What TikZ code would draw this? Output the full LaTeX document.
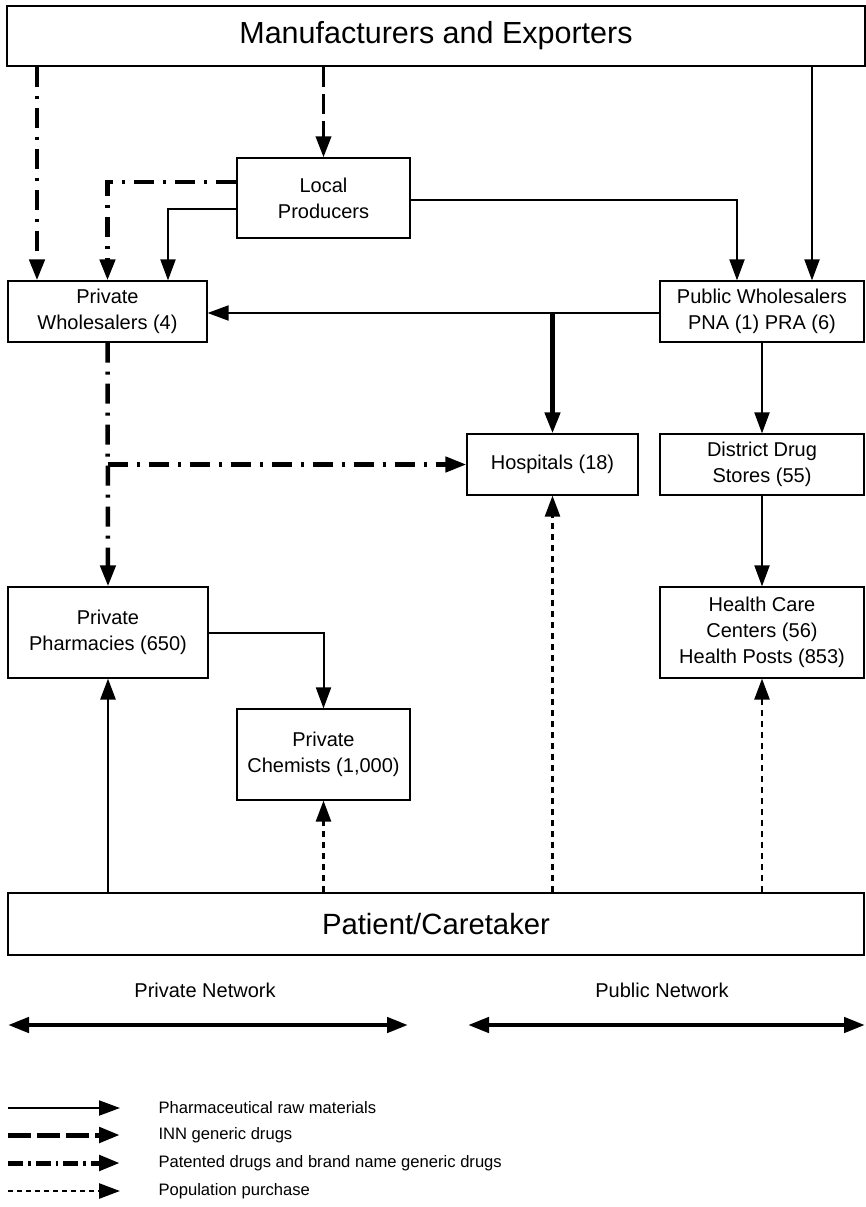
\documentclass[tikz,border=0pt]{standalone}
\usepackage{fontspec}
\setmainfont{Liberation Sans}
\usepackage{tikz}
\usetikzlibrary{arrows.meta,positioning,calc}
\newcommand{\boxfont}{\fontsize{20}{26}\selectfont}
\newcommand{\bigfont}{\fontsize{30.5}{34}\selectfont}
\newcommand{\patfont}{\fontsize{29.3}{34}\selectfont}
\newcommand{\netfont}{\fontsize{20}{24}\selectfont}
\newcommand{\keyfont}{\fontsize{16.6}{19}\selectfont}

\begin{document}
\begin{tikzpicture}[x=1pt,y=-1pt,>={Triangle[length=21pt,width=15pt]}]
\tikzstyle{box}=[draw=black,line width=1.2pt,align=center,font=\boxfont,inner sep=0pt]
\tikzstyle{raw}=[line width=2pt]
\tikzstyle{inn}=[line width=3.6pt,dash pattern=on 20pt off 7pt]
\tikzstyle{patent}=[line width=4.5pt,dash pattern=on 20pt off 9pt on 3pt off 9pt]
\tikzstyle{purchase}=[line width=2.6pt,dash pattern=on 6pt off 5pt]
\useasboundingbox (0,0) rectangle (865,1207);

% boxes
\node[box,font=\bigfont,minimum width=858pt,minimum height=60pt] (manu) at (436,36) {Manufacturers and Exporters};
\node[box,minimum width=173pt,minimum height=80pt] (lp) at (323.5,198) {Local\\Producers};
\node[box,minimum width=199pt,minimum height=61pt] (pw) at (107.5,311.5) {Private\\Wholesalers (4)};
\node[box,minimum width=204pt,minimum height=61pt] (pub) at (762,311.5) {Public Wholesalers\\PNA (1) PRA (6)};
\node[box,minimum width=171pt,minimum height=61pt] (hosp) at (552.5,464.5) {Hospitals (18)};
\node[box,minimum width=204pt,minimum height=61pt] (dds) at (762,464.5) {District Drug\\Stores (55)};
\node[box,minimum width=200pt,minimum height=91pt] (pharm) at (108,632.5) {Private\\Pharmacies (650)};
\node[box,minimum width=204pt,minimum height=91pt] (hcc) at (762,632.5) {Health Care\\Centers (56)\\Health Posts (853)};
\node[box,minimum width=173pt,minimum height=91pt] (chem) at (323.5,754.5) {Private\\Chemists (1,000)};
\node[box,font=\patfont,minimum width=856pt,minimum height=62pt] (pat) at (436,924) {Patient/Caretaker};

% columns
\coordinate (c37) at (37,0);
\coordinate (c168) at (168,0);
\coordinate (c737) at (737,0);
\coordinate (c812) at (812,0);

% supply
\draw[patent,->] (c37 |- manu.south) -- (c37 |- pw.north);
\draw[inn,->] (manu.south -| lp.north) -- (lp.north);
\draw[raw,->] (c812 |- manu.south) -- (c812 |- pub.north);
\draw[patent,->] ([yshift=16pt]lp.west) -| (pw.north);
\draw[raw,->] ([yshift=-11pt]lp.west) -| (c168 |- pw.north);
\draw[raw,->] ([yshift=-2pt]lp.east) -| (c737 |- pub.north);
\draw[raw,->] ([yshift=-1.5pt]pub.west) -- ([yshift=-1.5pt]pub.west -| pw.east);
\draw[line width=4.5pt,->] ([yshift=-1.5pt]pub.west -| hosp.north) -- (hosp.north);
\path[raw,->]
  (pub.south) edge (dds.north)
  (dds.south) edge (hcc.north);
\draw[patent,->] (pw.south) -- (pharm.north);
\draw[patent,->] (pw.south |- hosp.west) -- (hosp.west);
\draw[raw,->] (pharm.east) -| (chem.north);

% purchase
\draw[line width=2.8pt,->] (pat.north -| pharm.south) -- (pharm.south);
\path[purchase,->]
  (pat.north -| chem.south) edge (chem.south)
  (pat.north -| hosp.south) edge (hosp.south)
  (pat.north -| hcc.south) edge (hcc.south);

% networks
\node[font=\netfont] (privnet) at (205,990) {Private Network};
\node[font=\netfont] (pubnet) at (662,990) {Public Network};
\coordinate (pl) at (8,1025);
\coordinate (pr) at (408,1025);
\coordinate (ql) at (468,1025);
\coordinate (qr) at (865,1025);
\draw[line width=4.5pt,<->] (pl) -- (pr);
\draw[line width=4.5pt,<->] (ql) -- (qr);

% legend
\coordinate (k1a) at (8,1108);  \coordinate (k1b) at (120,1108);
\coordinate (k2a) at (8,1135);  \coordinate (k2b) at (120,1135);
\coordinate (k3a) at (8,1163);  \coordinate (k3b) at (120,1163);
\coordinate (k4a) at (8,1191);  \coordinate (k4b) at (120,1191);
\draw[raw,->] (k1a) -- (k1b);
\draw[line width=5pt,dash pattern=on 23pt off 6pt,->] (k2a) -- (k2b);
\draw[line width=5pt,dash pattern=on 15pt off 5pt on 2.5pt off 5pt,->] (k3a) -- (k3b);
\draw[purchase,dash pattern=on 5pt off 4pt,->] (k4a) -- (k4b);
\node[font=\keyfont,anchor=west] (key1) at (155,1108) {Pharmaceutical raw materials};
\node[font=\keyfont,anchor=west] (key2) at (155,1135) {INN generic drugs};
\node[font=\keyfont,anchor=west] (key3) at (155,1163) {Patented drugs and brand name generic drugs};
\node[font=\keyfont,anchor=west] (key4) at (155,1191) {Population purchase};
\end{tikzpicture}
\end{document}
